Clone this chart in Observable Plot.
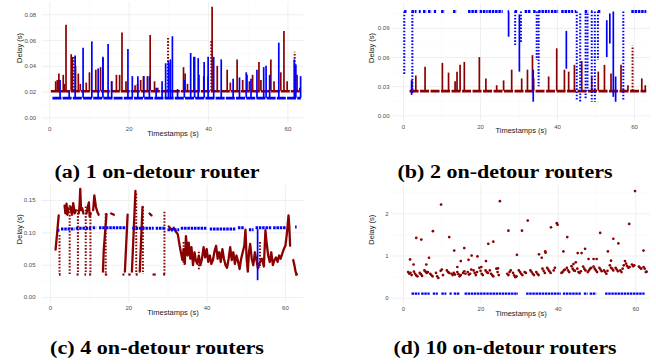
<!DOCTYPE html>
<html><head><meta charset="utf-8">
<script src="https://cdn.jsdelivr.net/npm/d3@7"></script>
<script src="https://cdn.jsdelivr.net/npm/@observablehq/plot@0.6"></script>
<style>
body{margin:0;background:#fff;width:656px;height:364px;position:relative;overflow:hidden;}
.p{position:absolute;}
#caps{position:absolute;left:0;top:0;}
</style></head><body>
<div id="pa" class="p" style="left:0;top:0"></div>
<div id="pb" class="p" style="left:328px;top:0"></div>
<div id="pc" class="p" style="left:0;top:170px"></div>
<div id="pd" class="p" style="left:328px;top:170px"></div>
<svg id="caps" width="656" height="364"></svg>
<script>
// ---------------- data ----------------
const xTicks = [0, 20, 40, 60];
const xMinor = [10, 30, 50];

// (a) 1 on-detour router
const aRedBase = 0.0207, aRedSpan = [0.4, 63.3];
const aBlueBase = 0.0153, aBlueSpan = [0.8, 63.4];
const aRedSpikes = [[1.5,0.028],[1.9,0.029],[2.3,0.034],[3.4,0.033],[3.7,0.026],[4.1,0.072],[5.4,0.049],[5.7,0.047],[6.5,0.040],[7.2,0.034],[7.7,0.026],[9.2,0.027],[10.0,0.035],[11.6,0.037],[12.8,0.039],[13.4,0.046],[15.6,0.028],[16.8,0.033],[17.6,0.033],[18.2,0.066],[19.2,0.028],[21.5,0.025],[22.1,0.026],[22.9,0.029],[23.6,0.032],[24.6,0.032],[25.3,0.064],[26.4,0.028],[27.2,0.023],[30.0,0.042],[33.7,0.039],[34.1,0.034],[34.7,0.026],[36.3,0.047],[37.6,0.033],[38.8,0.032],[39.9,0.032],[40.9,0.086],[42.2,0.040],[44.7,0.037],[45.5,0.027],[47.2,0.045],[48.6,0.029],[49.7,0.033],[50.3,0.028],[51.1,0.033],[52.7,0.043],[53.2,0.029],[55.7,0.045],[56.5,0.028],[58.2,0.035],[59.0,0.067],[59.8,0.028],[62.3,0.033],[63.0,0.023]];
const aRedDotted = [[6.0,0.048],[29.8,0.063],[40.7,0.060],[61.7,0.051]];
const aBlueSpikes = [[2.6,0.029],[4.9,0.021],[6.4,0.048],[8.4,0.054],[10.6,0.059],[12.2,0.038],[13.4,0.047],[14.7,0.057],[15.6,0.028],[19.7,0.053],[20.8,0.032],[22.2,0.032],[23.7,0.032],[25.1,0.032],[26.8,0.023],[28.3,0.028],[29.2,0.042],[29.9,0.044],[30.4,0.045],[30.9,0.063],[32.2,0.022],[33.9,0.029],[35.5,0.050],[36.5,0.047],[37.4,0.046],[38.9,0.043],[39.9,0.047],[41.3,0.047],[43.2,0.045],[46.2,0.030],[47.8,0.031],[49.5,0.035],[50.7,0.030],[52.2,0.037],[53.9,0.039],[54.5,0.040],[55.4,0.033],[57.7,0.058],[61.6,0.045],[62.0,0.041],[63.2,0.032]];

// (b) 2 on-detour routers
const bRedBase = 0.0254, bRedSpan = [1.7, 63.2];
const bRedSpikes = [[2.2,0.036],[3.2,0.041],[5.6,0.050],[10.1,0.054],[11.7,0.044],[13.4,0.035],[13.9,0.045],[14.7,0.052],[15.8,0.055],[19.7,0.060],[21.4,0.038],[24.2,0.031],[26.0,0.036],[28.1,0.047],[30.7,0.038],[32.2,0.047],[33.5,0.062],[33.8,0.038],[37.7,0.040],[39.8,0.069],[41.8,0.047],[42.9,0.045],[44.4,0.052],[46.3,0.056],[48.9,0.040],[50.6,0.045],[52.2,0.052],[53.9,0.043],[56.5,0.052],[58.3,0.031],[61.9,0.038],[62.8,0.031]];
const bRedDotted = [[59.5,0.072]];
const bBlueLevel = 0.1075;
const bBlueBand = [[0.3,0.9],[2.2,3.5],[4.1,4.6],[5.2,6.1],[6.5,7.4],[8.0,8.6],[9.9,10.8],[13.0,13.9],[16.9,19.5],[19.9,22.0],[22.2,25.9],[27.2,27.5],[29.0,29.7],[31.6,33.3],[33.8,34.6],[35.1,38.1],[38.4,40.3],[41.1,44.2],[44.6,45.0],[47.2,48.1],[48.9,49.2],[50.6,51.3],[59.3,63.2]];
// [t, top, bottom]
const bBlueSolid = [[2.1,0.036,0.021],[27.3,0.107,0.081],[30.1,0.104,0.045],[33.7,0.047,0.014],[42.3,0.087,0.048],[52.8,0.098,0.060],[53.6,0.105,0.074],[54.5,0.107,0.019],[55.1,0.040,0.014]];
const bBlueDotted = [[0.2,0.107,0.042],[2.3,0.107,0.022],[29.0,0.107,0.071],[30.5,0.107,0.074],[34.6,0.107,0.057],[35.1,0.107,0.030],[45.0,0.107,0.016],[45.9,0.105,0.014],[47.3,0.105,0.016],[47.8,0.105,0.025],[48.9,0.107,0.014],[49.7,0.107,0.014],[50.5,0.107,0.057],[57.1,0.107,0.016]];

// (c) 4 on-detour routers
const cFloor = 0.0356;
const cRedTraces = [
  [[1.3,0.074],[1.7,0.10],[2.1,0.127]],
  [[3.6,0.142],[3.8,0.130],[4.1,0.145],[4.3,0.128],[4.6,0.138]],
  [[5.1,0.140],[5.5,0.128],[5.8,0.146],[6.2,0.130],[6.5,0.135]],
  [[7.2,0.130],[7.4,0.140],[7.6,0.168],[7.8,0.135],[8.1,0.138],[8.4,0.130]],
  [[9.2,0.130],[9.5,0.140],[9.8,0.147],[10.0,0.125],[10.3,0.130]],
  [[10.9,0.135],[11.2,0.158],[11.6,0.140],[12.0,0.132],[12.3,0.128]],
  [[13.4,0.040],[13.6,0.073],[14.3,0.129]],
  [[15.5,0.130],[16.2,0.128]],
  [[19.0,0.040],[19.7,0.128]],
  [[20.8,0.040],[21.7,0.165]],
  [[22.8,0.040],[23.5,0.140]],
  [[25.3,0.130],[25.8,0.127]],
  [[30.2,0.110],[30.6,0.107],[31.0,0.104],[31.5,0.108],[32.0,0.102],[32.5,0.098],[33.0,0.080],[33.3,0.070],[33.7,0.058],[34.0,0.075],[34.3,0.052],[34.6,0.095],[35.0,0.065],[35.3,0.085],[35.7,0.060],[36.0,0.078],[36.4,0.050],[36.8,0.070],[37.1,0.058],[37.5,0.052],[37.9,0.065],[38.3,0.050],[38.7,0.060],[39.1,0.078],[39.5,0.062],[39.9,0.075],[40.3,0.055],[40.7,0.065],[41.1,0.052],[41.5,0.058],[41.9,0.072],[42.3,0.080],[42.7,0.060],[43.1,0.070],[43.5,0.055],[43.9,0.075],[44.3,0.060],[44.7,0.050],[45.1,0.046],[45.5,0.060],[45.9,0.078],[46.3,0.058],[46.7,0.070],[47.1,0.052],[47.5,0.065],[47.9,0.056],[48.3,0.044],[48.7,0.060],[49.1,0.070],[49.5,0.080],[49.8,0.105],[50.1,0.060],[50.4,0.040],[50.7,0.070],[51.0,0.083],[51.4,0.060],[51.8,0.050],[52.2,0.070],[52.6,0.058],[53.0,0.045],[53.5,0.055],[54.0,0.060],[54.5,0.048],[54.9,0.104],[55.2,0.085],[55.6,0.065],[56.0,0.055],[56.4,0.070],[56.8,0.050],[57.2,0.058],[57.6,0.062],[58.0,0.055],[58.4,0.065],[58.8,0.060],[59.2,0.068],[59.6,0.075],[60.0,0.080],[60.4,0.100],[60.8,0.127],[61.0,0.110],[61.2,0.080]],
  [[62.0,0.058],[62.3,0.050],[62.6,0.040],[62.9,0.036]]
];
// [t, top, bottom]
const cRedDrops = [[2.3,0.096,cFloor],[4.9,0.142,cFloor],[7.0,0.135,cFloor],[9.0,0.140,cFloor],[10.2,0.125,cFloor],[14.1,0.129,cFloor],[21.9,0.160,cFloor],[23.6,0.140,cFloor],[29.1,0.132,cFloor],[34.0,0.085,0.050],[37.9,0.070,0.042],[53.5,0.085,0.045]];
const cFloorDashes = [[2.3,2.7],[6.8,7.3],[8.8,9.2],[10.0,10.5],[14.0,14.6],[18.5,19.0],[20.0,20.6],[21.9,22.4],[26.2,27.0],[28.9,29.4],[62.6,63.2]];
// [t0, t1, level]
const cBlueBand = [[1.9,2.4,0.104],[2.8,6.3,0.106],[6.6,10.5,0.107],[10.9,11.8,0.108],[12.5,14.0,0.108],[14.3,19.5,0.108],[21.0,26.5,0.107],[27.0,29.6,0.107],[30.0,33.0,0.105],[33.4,40.0,0.107],[40.8,47.5,0.106],[48.0,49.5,0.108],[50.8,52.0,0.105],[52.5,56.5,0.108],[57.0,60.2,0.108],[62.6,63.0,0.109]];
const cBlueDrop = [[52.9,0.105,0.026]];

// (d) 10 on-detour routers
const dRedBand = [[1.2,0.62],[1.5,0.58],[1.8,0.60],[2.1,0.55],[2.7,0.63],[3.0,0.58],[3.3,0.54],[3.6,0.52],[4.2,0.60],[4.5,0.57],[4.8,0.53],[5.4,0.66],[5.7,0.63],[6.0,0.60],[6.3,0.62],[6.9,0.58],[7.2,0.55],[7.5,0.52],[8.4,0.60],[8.7,0.52],[9.0,0.48],[9.6,0.65],[9.9,0.68],[10.2,0.55],[11.2,0.66],[11.5,0.62],[11.8,0.60],[12.4,0.58],[12.7,0.55],[13.0,0.60],[13.3,0.56],[13.9,0.62],[14.2,0.57],[14.5,0.52],[14.8,0.55],[15.4,0.60],[15.7,0.64],[16.0,0.58],[16.6,0.62],[16.9,0.56],[17.2,0.58],[17.5,0.68],[18.1,0.66],[18.4,0.60],[18.7,0.55],[19.0,0.62],[19.6,0.72],[19.9,0.65],[20.2,0.58],[20.5,0.55],[21.2,0.66],[21.5,0.62],[21.8,0.60],[22.3,0.66],[22.6,0.58],[22.9,0.55],[23.2,0.52],[24.0,0.70],[24.3,0.62],[24.6,0.55],[26.8,0.58],[27.1,0.55],[27.4,0.62],[27.7,0.66],[28.3,0.60],[28.6,0.54],[28.9,0.50],[29.2,0.52],[29.8,0.66],[30.1,0.62],[30.4,0.58],[30.7,0.55],[31.3,0.62],[31.6,0.60],[32.8,0.66],[33.1,0.62],[33.4,0.58],[33.7,0.55],[34.3,0.62],[34.6,0.58],[34.9,0.55],[35.9,0.70],[36.2,0.65],[36.5,0.60],[37.1,0.72],[37.4,0.68],[37.7,0.64],[38.0,0.60],[38.8,0.66],[39.1,0.72],[40.8,0.60],[41.1,0.62],[41.4,0.66],[41.7,0.68],[42.2,0.72],[42.5,0.66],[42.8,0.62],[43.4,0.76],[43.7,0.70],[44.0,0.66],[44.3,0.65],[44.9,0.70],[45.2,0.62],[45.5,0.60],[45.8,0.64],[46.4,0.75],[46.7,0.70],[47.0,0.66],[47.6,0.62],[47.9,0.66],[48.2,0.70],[48.5,0.72],[49.1,0.75],[49.4,0.70],[49.7,0.66],[50.0,0.62],[50.6,0.72],[50.9,0.68],[51.2,0.64],[51.8,0.66],[52.1,0.62],[52.4,0.58],[52.7,0.65],[53.3,0.78],[53.6,0.72],[53.9,0.70],[54.2,0.66],[54.8,0.72],[55.1,0.68],[55.4,0.64],[56.0,0.66],[56.3,0.62],[56.6,0.70],[56.9,0.78],[57.5,0.82],[57.8,0.76],[58.1,0.72],[58.4,0.74],[59.0,0.80],[59.3,0.76],[60.8,0.75],[61.1,0.72],[61.4,0.70],[62.0,0.74],[62.3,0.70],[62.6,0.62]];
const dRedHigh = [[1.7,0.92],[2.6,0.80],[3.3,1.43],[4.6,1.39],[5.9,0.80],[6.6,0.96],[7.6,1.59],[9.7,2.22],[11.8,1.45],[13.1,1.13],[13.9,0.74],[14.8,0.88],[15.7,1.19],[16.8,0.91],[17.6,1.01],[19.1,0.99],[20.1,0.74],[21.3,0.88],[21.9,1.29],[23.2,1.34],[24.9,2.30],[24.4,0.71],[27.1,1.60],[29.3,1.03],[30.6,1.60],[32.1,1.84],[35.0,1.04],[35.7,0.96],[36.6,1.11],[36.7,1.08],[38.1,1.68],[39.6,1.78],[39.8,1.74],[41.3,1.11],[42.3,1.45],[43.9,0.81],[44.5,0.85],[45.0,1.07],[46.0,1.07],[46.9,1.17],[47.8,0.93],[49.1,0.93],[49.9,0.93],[50.8,1.55],[52.8,1.11],[53.6,0.89],[54.2,1.41],[55.5,1.30],[57.2,0.88],[58.3,1.76],[59.6,0.78],[59.8,2.54],[62.0,1.13],[62.8,0.63]];
const dBlueLevel = 0.11;
const dBlueSegs = [[2.2,4.3],[4.7,6.9],[7.7,9.0],[9.9,11.2],[12.0,12.6],[13.1,14.6],[15.9,29.7],[31.8,40.8],[41.3,46.0],[46.7,47.7],[48.2,49.9],[52.2,62.4]];

// ---------------- drawing ----------------
const RED = "#8b0000", BLUE = "#0000ff";
const dotted = {strokeDasharray: "1.6,1.6", strokeWidth: 2};

function panel(cfg, marks) {
  return Plot.plot({
    width: 328, height: cfg.h,
    marginLeft: cfg.ml, marginRight: cfg.mr, marginTop: cfg.mt, marginBottom: cfg.mb,
    x: {domain: cfg.xd}, y: {domain: cfg.yd},
    style: {fontFamily: "'Liberation Sans', Arial, sans-serif", background: "transparent", overflow: "visible"},
    marks: [
      Plot.ruleX(xMinor, {stroke: "#f4f4f4", strokeWidth: 0.5}),
      Plot.ruleY(cfg.yMinor, {stroke: "#f4f4f4", strokeWidth: 0.5}),
      Plot.ruleX(xTicks, {stroke: "#ebebeb", strokeWidth: 0.8}),
      Plot.ruleY(cfg.yTicks, {stroke: "#ebebeb", strokeWidth: 0.8}),
      Plot.axisX(xTicks, {tickSize: 0, tickPadding: 3.2, fontSize: 6, color: "#4d4d4d", label: null}),
      Plot.axisY(cfg.yTicks, {tickSize: 0, tickPadding: cfg.ytp, fontSize: 6, color: "#4d4d4d", tickFormat: cfg.fmt, label: null}),
      Plot.text(["Timestamps (s)"], {frameAnchor: "bottom", dy: 12, fontSize: 7.5, fill: "#1a1a1a"}),
      Plot.text(["Delay (s)"], {frameAnchor: "left", dx: cfg.ydx, rotate: -90, fontSize: 7.5, fill: "#1a1a1a"}),
      ...marks
    ]
  });
}
const hseg = (rows, o) => Plot.ruleY(rows, {x1: r => r.x1, x2: r => r.x2, y: r => r.y, ...o});
const f2 = d3.format(".2f");

// (a)
document.getElementById("pa").append(panel({
  h: 140, ml: 41.7, mr: 24.7, mt: 2, mb: 17, xd: [-1.9, 64.0], yd: [-0.0044, 0.0896],
  yTicks: [0, 0.02, 0.04, 0.06, 0.08], yMinor: [0.01, 0.03, 0.05, 0.07], fmt: f2, ytp: 6, ydx: -22.7
}, [
  hseg([{x1: aRedSpan[0], x2: aRedSpan[1], y: aRedBase}], {stroke: RED, strokeWidth: 2.6, strokeDasharray: "9,1"}),
  Plot.ruleX(aRedSpikes, {x: d => d[0], y1: () => aRedBase, y2: d => d[1], stroke: RED, strokeWidth: 1.7}),
  Plot.ruleX(aRedDotted, {x: d => d[0], y1: () => aRedBase, y2: d => d[1], stroke: RED, ...dotted}),
  hseg([{x1: aBlueSpan[0], x2: aBlueSpan[1], y: aBlueBase}], {stroke: BLUE, strokeWidth: 2.6, strokeDasharray: "9,1.2"}),
  Plot.ruleX(aBlueSpikes, {x: d => d[0], y1: () => aBlueBase, y2: d => d[1], stroke: BLUE, strokeWidth: 1.7})
]));

// (b)
document.getElementById("pb").append(panel({
  h: 140, ml: 63.3, mr: 6, mt: 4.2, mb: 19.4, xd: [-3.04, 64.16], yd: [-0.00546, 0.1145],
  yTicks: [0, 0.03, 0.06, 0.09], yMinor: [0.015, 0.045, 0.075, 0.105], fmt: f2, ytp: 2.3, ydx: -20
}, [
  hseg([{x1: bRedSpan[0], x2: bRedSpan[1], y: bRedBase}], {stroke: RED, strokeWidth: 2.6, strokeDasharray: "9,1.5"}),
  Plot.ruleX(bRedSpikes, {x: d => d[0], y1: () => bRedBase, y2: d => d[1], stroke: RED, strokeWidth: 1.7}),
  Plot.ruleX(bRedDotted, {x: d => d[0], y1: () => bRedBase, y2: d => d[1], stroke: RED, ...dotted}),
  hseg(bBlueBand.map(s => ({x1: s[0], x2: s[1], y: bBlueLevel})), {stroke: BLUE, strokeWidth: 3, strokeDasharray: "2.5,0.8"}),
  Plot.ruleX(bBlueSolid, {x: d => d[0], y1: d => d[1], y2: d => d[2], stroke: BLUE, strokeWidth: 1.7}),
  Plot.ruleX(bBlueDotted, {x: d => d[0], y1: d => d[1], y2: d => d[2], stroke: BLUE, ...dotted})
]));

// (c)
const cRows = cRedTraces.flatMap((seg, i) => seg.map(p => ({t: p[0], d: p[1], seg: i})));
document.getElementById("pc").append(panel({
  h: 150, ml: 41.7, mr: 24.7, mt: 15, mb: 17.6, xd: [-2.12, 64.7], yd: [-0.00825, 0.1732],
  yTicks: [0, 0.05, 0.10, 0.15], yMinor: [0.025, 0.075, 0.125], fmt: f2, ytp: 6.7, ydx: -22.7
}, [
  Plot.line(cRows, {x: "t", y: "d", z: "seg", stroke: RED, strokeWidth: 2.3, strokeLinejoin: "round"}),
  Plot.ruleX(cRedDrops, {x: d => d[0], y1: d => d[1], y2: d => d[2], stroke: RED, ...dotted}),
  hseg(cFloorDashes.map(s => ({x1: s[0], x2: s[1], y: cFloor})), {stroke: RED, strokeWidth: 2.2}),
  hseg(cBlueBand.map(s => ({x1: s[0], x2: s[1], y: s[2]})), {stroke: BLUE, strokeWidth: 3, strokeDasharray: "2.5,0.8"}),
  Plot.ruleX(cBlueDrop, {x: d => d[0], y1: d => d[1], y2: d => d[2], stroke: BLUE, strokeWidth: 1.7})
]));

// (d)
document.getElementById("pd").append(panel({
  h: 150, ml: 63.3, mr: 6, mt: 15.2, mb: 16.9, xd: [-3.02, 63.8], yd: [-0.127, 2.667],
  yTicks: [0, 1, 2], yMinor: [0.5, 1.5, 2.5], fmt: d3.format("d"), ytp: 3.3, ydx: -20
}, [
  Plot.dot(dRedBand, {x: d => d[0], y: d => d[1], r: 1.35, fill: RED, stroke: null}),
  Plot.dot(dRedHigh, {x: d => d[0], y: d => d[1], r: 1.35, fill: RED, stroke: null}),
  hseg(dBlueSegs.map(s => ({x1: s[0], x2: s[1], y: dBlueLevel})), {stroke: BLUE, strokeWidth: 2.2, strokeDasharray: "2.5,0.6"})
]));

// captions
const captions = [
  {text: "(a) 1 on-detour router", x: 157, y: 178, w: 205},
  {text: "(b) 2 on-detour routers", x: 505, y: 178, w: 215},
  {text: "(c) 4 on-detour routers", x: 157, y: 354, w: 214},
  {text: "(d) 10 on-detour routers", x: 505, y: 354, w: 223}
];
const capSvg = d3.select("#caps");
capSvg.selectAll("text").data(captions).join("text")
  .attr("x", d => d.x).attr("y", d => d.y)
  .attr("text-anchor", "middle")
  .attr("textLength", d => d.w).attr("lengthAdjust", "spacingAndGlyphs")
  .attr("font-family", "'Liberation Serif', 'DejaVu Serif', serif")
  .attr("font-weight", "bold").attr("font-size", 18).attr("fill", "#000")
  .text(d => d.text);
</script>
</body></html>
